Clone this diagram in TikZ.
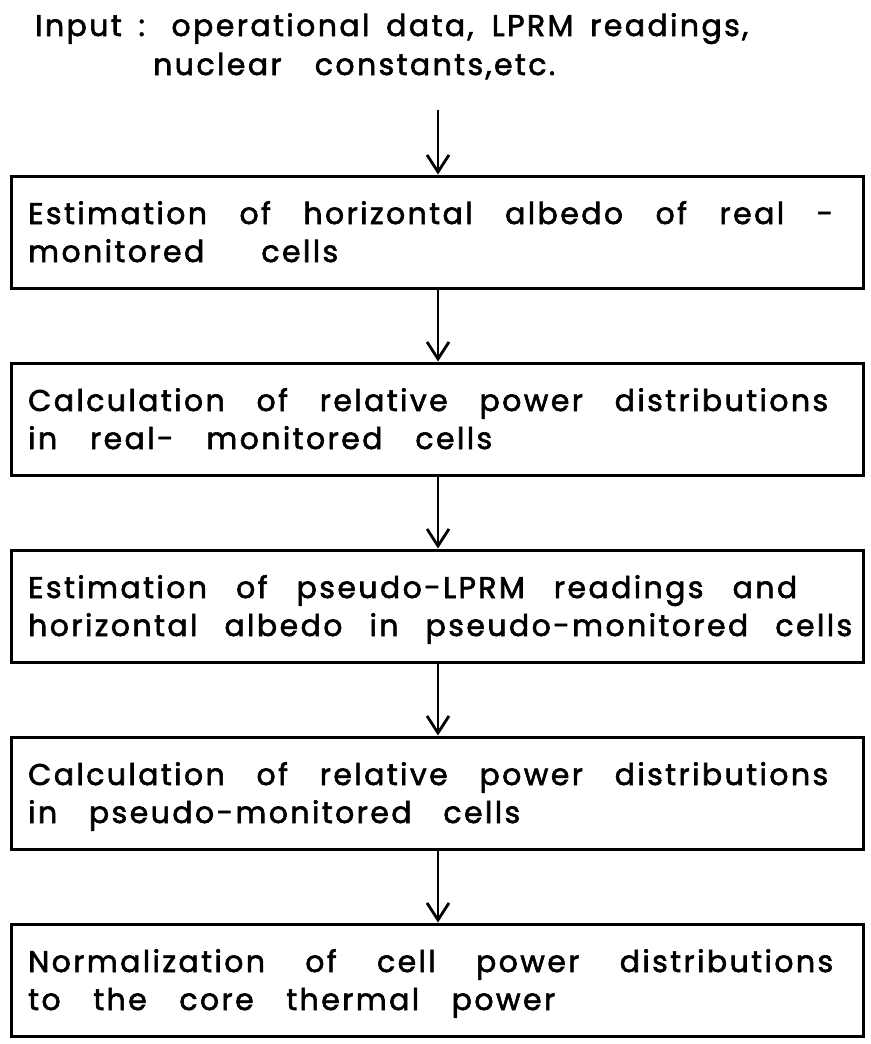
\documentclass[tikz,border=0pt]{standalone}
\usepackage{fontspec}
\setmainfont{Poppins}[LetterSpace=8, FakeBold=2]
\usetikzlibrary{arrows.meta}
\newcommand{\fitline}[2]{\makebox[#1][s]{#2}}
\tikzset{
 box/.style={draw, line width=2.6pt, minimum width=852pt, minimum height=112pt, anchor=north west, inner sep=0pt},
 txt/.style={anchor=base west, inner sep=0pt, font=\fontsize{30}{34}\selectfont},
 flow/.style={line width=2.8pt, -{Straight Barb[length=17pt,width=22pt,line width=2.8pt]}, shorten >=0.5pt}
}
\begin{document}
\begin{tikzpicture}[x=1pt,y=-1pt]
\useasboundingbox[fill=white] (0,0) rectangle (870,1044);
% input text
\node[txt] (i1) at (35,36) {\fitline{713pt}{Input : operational data, LPRM readings,}};
\node[txt] (i2) at (153,75) {\fitline{402pt}{nuclear constants,etc.}};
\coordinate (src) at (438,110);
% boxes
\node[box] (b1) at (10,175) {};
\node[box] (b2) at (10,362) {};
\node[box] (b3) at (10,549) {};
\node[box] (b4) at (10,736) {};
\node[box] (b5) at (10,923) {};
% box texts
\node[txt] (t1a) at (28,224) {\fitline{805pt}{Estimation of horizontal albedo of real -}};
\node[txt] (t1b) at (28,262) {\fitline{310pt}{monitored cells}};
\node[txt] (t2a) at (28,411) {\fitline{800pt}{Calculation of relative power distributions}};
\node[txt] (t2b) at (28,449) {\fitline{464pt}{in real- monitored cells}};
\node[txt] (t3a) at (28,598) {\fitline{769pt}{Estimation of pseudo-LPRM readings and}};
\node[txt] (t3b) at (28,636) {\fitline{824pt}{horizontal albedo in pseudo-monitored cells}};
\node[txt] (t4a) at (28,785) {\fitline{800pt}{Calculation of relative power distributions}};
\node[txt] (t4b) at (28,823) {\fitline{492pt}{in pseudo-monitored cells}};
\node[txt] (t5a) at (28,972) {\fitline{805pt}{Normalization of cell power distributions}};
\node[txt] (t5b) at (28,1010) {\fitline{527pt}{to the core thermal power}};
% arrows
\draw[flow] (src) -- (src |- b1.north);
\draw[flow] (b1.south -| src) -- (src |- b2.north);
\draw[flow] (b2.south -| src) -- (src |- b3.north);
\draw[flow] (b3.south -| src) -- (src |- b4.north);
\draw[flow] (b4.south -| src) -- (src |- b5.north);
\end{tikzpicture}
\end{document}
